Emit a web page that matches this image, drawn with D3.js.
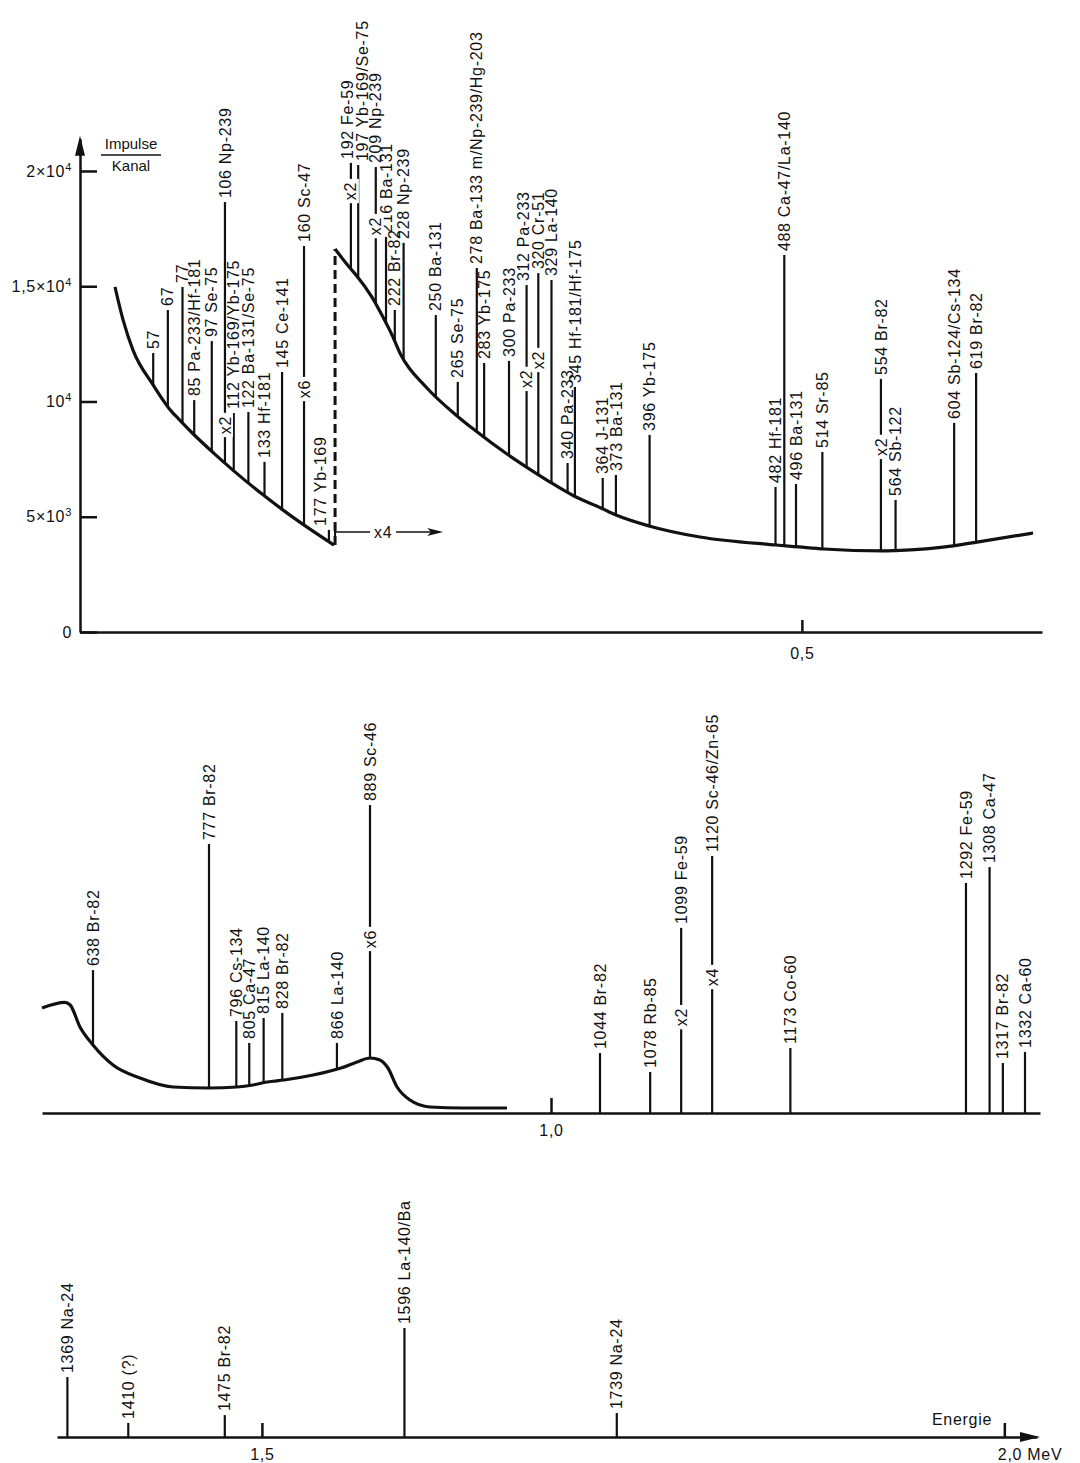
<!DOCTYPE html>
<html>
<head>
<meta charset="utf-8">
<script src="https://cdn.jsdelivr.net/npm/d3@7/dist/d3.min.js"></script>
<style>
  body { margin: 0; background: #fff; }
  svg { display: block; }
  text { font-family: "Liberation Sans", Arial, sans-serif; fill: #111; }
  .lbl, .axis text { font-size: 16px; letter-spacing: 0.7px; }
  .axis path, .axis line { stroke: #111; stroke-width: 2.5; }
  .curve { fill: none; stroke: #111; stroke-width: 3.2; }
  .peak line { stroke: #111; stroke-width: 2.2; }
</style>
</head>
<body>
<svg id="chart" width="1080" height="1463"></svg>
<script>
// background under the lines: [energy keV, counts per channel]
const bgLow = [[30.9,14970],[36.4,13540],[43.2,12230],[56.9,10720],[67.8,9700],[75.3,9180],
  [84.2,8600],[98.5,7750],[112.2,6980],[132,5950],[145,5320],[158.6,4700],[180.5,3770]];
const bgHigh = [[181.2,16615],[191.4,15790],[195.5,15490],[206.4,14530],[213.9,13665],[220.1,12885],
  [226.2,12015],[243.3,10630],[263.1,9450],[276.1,8780],[298.6,7720],[309.6,7250],
  [328,6505],[344.4,5900],[362.8,5380],[373.1,5075],[395.6,4600],[430.4,4120],[482.3,3775],
  [498,3690],[515.1,3600],[555.4,3515],[563.6,3530],[604.6,3750],[619.6,3900],[657.9,4295]];
const bgMid = [[600,4555],[617,4800],[621,4685],[628.3,3731],[638,2950],[662,2082],[694.3,1518],
  [733.9,1128],[777,1085],[796.5,1128],[807.6,1215],[817.4,1345],[829.2,1432],[849.4,1648],
  [868.8,1952],[880,2212],[889,2386],[895.1,2299],[900,1952],[905.6,1128],[913.5,564],
  [925.8,260],[946,217],[973,217]];

// lines: [energy keV, label, top of line in counts]
const topPeaks = [
  [57,"57",12100],[67,"67",13970],[77,"77",14970],[85,"85 Pa-233/Hf-181",10060],
  [97,"97 Se-75",12620],[106,"106 Np-239",18650],[112,"112 Yb-169/Yb-175",9500],
  [122,"122 Ba-131/Se-75",9540],[133,"133 Hf-181",7380],[145,"145 Ce-141",11280],
  [160,"160 Sc-47",16750],[177,"177 Yb-169",4430],[192,"192 Fe-59",20350],
  [197,"197 Yb-169/Se-75",20260],[209,"209 Np-239",20170],[216,"216 Ba-131",17140],
  [222,"222 Br-82",13970],[228,"228 Np-239",16880],[250,"250 Ba-131",13750],
  [265,"265 Se-75",10850],[278,"278 Ba-133 m/Np-239/Hg-203",15790],[283,"283 Yb-175",11670],
  [300,"300 Pa-233",11760],[312,"312 Pa-233",15050],[320,"320 Cr-51",15570],
  [329,"329 La-140",15270],[340,"340 Pa-233",7330],[345,"345 Hf-181/Hf-175",10630],
  [364,"364 J-131",6680],[373,"373 Ba-131",6810],[396,"396 Yb-175",8550],
  [482,"482 Hf-181",6290],[488,"488 Ca-47/La-140",16350],[496,"496 Ba-131",6420],
  [514,"514 Sr-85",7810],[554,"554 Br-82",10980],[564,"564 Sb-122",5730],
  [604,"604 Sb-124/Cs-134",9070],[619,"619 Br-82",11240]];
const midPeaks = [
  [638,"638 Br-82",6200],[777,"777 Br-82",11670],[796,"796 Cs-134",3990],
  [805,"805 Ca-47",3040],[815,"815 La-140",4120],[828,"828 Br-82",4340],
  [866,"866 La-140",3040],[889,"889 Sc-46",13360],[1044,"1044 Br-82",2600],
  [1078,"1078 Rb-85",1780],[1099,"1099 Fe-59",8030],[1120,"1120 Sc-46/Zn-65",11150],
  [1173,"1173 Co-60",2820],[1292,"1292 Fe-59",9980],[1308,"1308 Ca-47",10670],
  [1317,"1317 Br-82",2170],[1332,"1332 Ca-60",2650]];
const lowPeaks = [
  [1369,"1369 Na-24",2600],[1410,"1410 (?)",610],[1475,"1475 Br-82",950],
  [1596,"1596 La-140/Ba",4730],[1739,"1739 Na-24",1040]];

// scale factors written on a line: [energy keV, text, position in counts]
const topFactors = [[106,"x2",8980],[160,"x6",10540],[192,"x2",19130],[209,"x2",17610],
  [312,"x2",10980],[320,"x2",11800],[554,"x2",8030]];
const midFactors = [[889,"x6",7550],[1099,"x2",4160],[1120,"x4",5900]];

// right of the dashed break the curve is drawn x4: [from keV, to keV, counts]
const breakArrow = [181.2, 255, 4340];

const countTicks = [0, 5000, 10000, 15000, 20000];
const countTickText = [["0",""],["5×10","3"],["10","4"],["1,5×10","4"],["2×10","4"]];
const topTicks = [500], topTickText = ["0,5"];
const midTicks = [1000], midTickText = ["1,0"];
const lowTicks = [1500, 2000], lowTickText = ["1,5", "2,0 MeV"];

// labels pushed sideways where they would collide (px)
const nudge = { 177: -9, 192: -3, 197: 4, 312: -3 };

const svg = d3.select("#chart");

const xTop = d3.scaleLinear().domain([7, 664]).range([80, 1042]);
const yTop = d3.scaleLinear().domain([0, 21400]).range([632, 138.7]);
const xMid = d3.scaleLinear().domain([600, 638, 777, 889, 1000, 1044, 1332, 1342])
  .range([42, 93, 209, 370, 551, 600, 1025, 1040]);
const yMid = d3.scaleLinear().domain([0, 20000]).range([1113, 652]);
const xLow = d3.scaleLinear().domain([1362, 2022]).range([57, 1037]);
const yLow = d3.scaleLinear().domain([0, 20000]).range([1437, 976]);

const interp = (pts) => d3.scaleLinear().domain(pts.map(d => d[0])).range(pts.map(d => d[1]));
const lowF = interp(bgLow), highF = interp(bgHigh), midF = interp(bgMid);
const bgTop = e => e < bgHigh[0][0] ? lowF(e) : highF(e);
const bgMidAt = e => e <= bgMid[bgMid.length - 1][0] ? midF(e) : 0;

const curve = (x, y) => d3.line().x(d => x(d[0])).y(d => y(d[1])).curve(d3.curveMonotoneX);

function drawPeaks(g, peaks, x, y, bg) {
  let p = g.selectAll("g.peak").data(peaks).join("g").attr("class", "peak");
  p.append("line")
    .attr("x1", d => x(d[0])).attr("x2", d => x(d[0]))
    .attr("y1", d => y(d[2])).attr("y2", d => y(bg(d[0])));
  p.append("text").attr("class", "lbl")
    .attr("transform", d => `translate(${x(d[0]) + (nudge[d[0]] || 0)},${y(d[2]) - 4}) rotate(-90)`)
    .attr("dy", "0.35em")
    .text(d => d[1]);
}

function drawFactors(g, factors, x, y) {
  let f = g.selectAll("g.factor").data(factors).join("g").attr("class", "factor")
    .attr("transform", d => `translate(${x(d[0])},${y(d[2])}) rotate(-90)`);
  f.append("rect").attr("fill", "#fff");
  f.append("text").attr("class", "lbl").attr("text-anchor", "middle").attr("dy", "0.35em")
    .text(d => d[1]);
  f.each(function() {
    let w = d3.select(this).select("text").node().getComputedTextLength();
    d3.select(this).select("rect")
      .attr("x", -w / 2 - 3).attr("width", w + 6).attr("y", -8).attr("height", 16);
  });
}

// ---- top panel
let gTop = svg.append("g");

gTop.append("g").attr("class", "axis").attr("transform", `translate(${xTop.range()[0]},0)`)
  .call(d3.axisLeft(yTop).tickValues(countTicks).tickSize(-17).tickSizeOuter(0).tickPadding(8))
  .call(g => g.selectAll(".tick text").each(function(d, i) {
    let t = d3.select(this).text("");
    t.append("tspan").text(countTickText[i][0]);
    if (countTickText[i][1]) {
      t.append("tspan").attr("dy", "-0.55em").style("font-size", "11px").text(countTickText[i][1]);
    }
  }));

// arrow head of the count axis
let ax = xTop.range()[0], ay = yTop.range()[1];
gTop.append("path").attr("d", `M${ax},${ay - 3} L${ax - 5},${ay + 17} L${ax + 5},${ay + 17} Z`)
  .attr("fill", "#111");

gTop.append("g").attr("class", "axis").attr("transform", `translate(0,${yTop(0)})`)
  .call(d3.axisBottom(xTop).tickValues(topTicks).tickFormat((d, i) => topTickText[i])
    .tickSize(-12).tickSizeOuter(0).tickPadding(16));

// unit label
gTop.append("text").attr("x", 131).attr("y", 149).attr("text-anchor", "middle")
  .style("font-size", "15px").text("Impulse");
gTop.append("line").attr("x1", 101).attr("x2", 161).attr("y1", 155).attr("y2", 155)
  .attr("stroke", "#111").attr("stroke-width", 1.6);
gTop.append("text").attr("x", 131).attr("y", 171).attr("text-anchor", "middle")
  .style("font-size", "15px").text("Kanal");

gTop.append("path").datum(bgLow).attr("class", "curve").attr("d", curve(xTop, yTop));
gTop.append("path").datum(bgHigh).attr("class", "curve").attr("d", curve(xTop, yTop));

// dashed break between the two curves
gTop.append("line")
  .attr("x1", xTop(bgHigh[0][0])).attr("x2", xTop(bgHigh[0][0]))
  .attr("y1", yTop(bgLow[bgLow.length - 1][1])).attr("y2", yTop(bgHigh[0][1]))
  .attr("stroke", "#111").attr("stroke-width", 3).attr("stroke-dasharray", "9,5");

// "x4 ->" note
let bx0 = xTop(breakArrow[0]), bx1 = xTop(breakArrow[1]), by = yTop(breakArrow[2]);
gTop.append("line").attr("x1", bx0).attr("x2", bx0).attr("y1", by - 7).attr("y2", by + 7)
  .attr("stroke", "#111").attr("stroke-width", 2);
gTop.append("line").attr("x1", bx0).attr("x2", bx1 - 4).attr("y1", by).attr("y2", by)
  .attr("stroke", "#111").attr("stroke-width", 1.4);
gTop.append("path").attr("d", `M${bx1},${by} L${bx1 - 16},${by - 4} L${bx1 - 12},${by} L${bx1 - 16},${by + 4} Z`)
  .attr("fill", "#111");
let midx = (bx0 + bx1) / 2 - 6;
gTop.append("rect").attr("x", midx - 13).attr("y", by - 9).attr("width", 26).attr("height", 18)
  .attr("fill", "#fff");
gTop.append("text").attr("class", "lbl").attr("x", midx).attr("y", by).attr("dy", "0.35em")
  .attr("text-anchor", "middle").text("x4");

drawPeaks(gTop, topPeaks, xTop, yTop, bgTop);
drawFactors(gTop, topFactors, xTop, yTop);

// ---- middle panel
let gMid = svg.append("g");
gMid.append("g").attr("class", "axis").attr("transform", `translate(0,${yMid(0)})`)
  .call(d3.axisBottom(xMid).tickValues(midTicks).tickFormat((d, i) => midTickText[i])
    .tickSize(-15).tickSizeOuter(0).tickPadding(12));
gMid.append("path").datum(bgMid).attr("class", "curve").attr("d", curve(xMid, yMid));
drawPeaks(gMid, midPeaks, xMid, yMid, bgMidAt);
drawFactors(gMid, midFactors, xMid, yMid);

// ---- bottom panel
let gLow = svg.append("g");
gLow.append("g").attr("class", "axis").attr("transform", `translate(0,${yLow(0)})`)
  .call(d3.axisBottom(xLow).tickValues(lowTicks).tickFormat((d, i) => lowTickText[i])
    .tickSize(-14).tickSizeOuter(0).tickPadding(12))
  .call(g => g.selectAll(".tick text").filter((d, i) => i === lowTicks.length - 1)
    .attr("text-anchor", "start").attr("dx", -7));
let ex = xLow.range()[1], ey = yLow(0);
gLow.append("path").attr("d", `M${ex + 3},${ey} L${ex - 17},${ey - 5} L${ex - 17},${ey + 5} Z`)
  .attr("fill", "#111");
gLow.append("text").attr("class", "lbl").attr("x", 962).attr("y", 1425)
  .attr("text-anchor", "middle").text("Energie");
drawPeaks(gLow, lowPeaks, xLow, yLow, () => 0);
</script>
</body>
</html>
